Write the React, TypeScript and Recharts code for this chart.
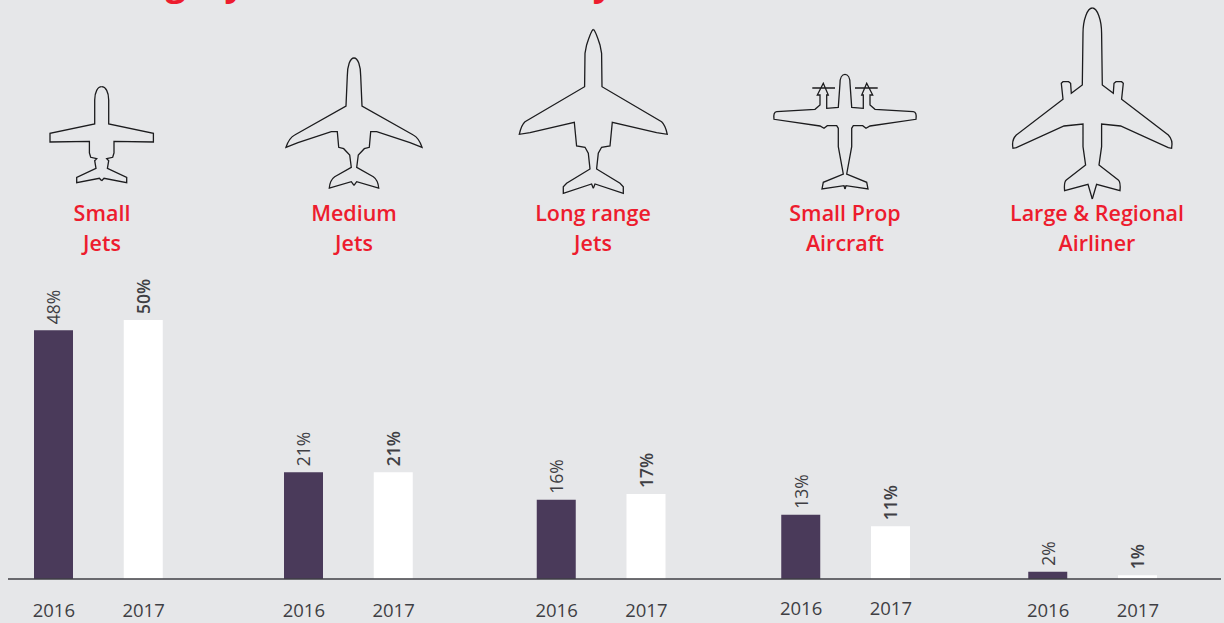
import React from "react";
import { BarChart, Bar, Cell, LabelList, XAxis, YAxis } from "recharts";

const categories = [
  ["Small", "Jets"],
  ["Medium", "Jets"],
  ["Long range", "Jets"],
  ["Small Prop", "Aircraft"],
  ["Large & Regional", "Airliner"],
];
const years = ["2016", "2017"];

// bar heights, printed labels kept apart
const share2016 = [48, 20.6, 15.3, 12.4, 1.4];
const share2017 = [50, 20.6, 16.4, 10.2, 0.7];
const labels2016 = ["48%", "21%", "16%", "13%", "2%"];
const labels2017 = ["50%", "21%", "17%", "11%", "1%"];

const BG = "#e6e7e9";
const PURPLE = "#4a3a5a";
const RED = "#ed1c2e";
const INK = "#3f3f44";
const FONT = "'Open Sans', sans-serif";

const PANEL_EDGES = [8, 223, 475, 724, 969, 1221];
const PANEL_MIDS = [98.75, 348.75, 601.5, 846, 1093];
const TICK_SHIFT = [0, 0, 0, -1.5, 0];
const BAND = 89.75;
const CHART_TOP = 268;
const CHART_H = 355;

const BarLabel = (props: any) => {
  const { x, y, width, value, index } = props;
  const cx = x + width / 2;
  const top = y - 6;
  return (
    <text
      transform={`rotate(-90 ${cx} ${top})`}
      x={cx}
      y={top}
      dy={7}
      textAnchor="start"
      fontFamily={FONT}
      fontSize={17.5}
      fontWeight={index === 1 ? 600 : 400}
      fill={INK}
    >
      {value}
    </text>
  );
};

const Panel = ({ i }: { i: number }) => {
  const left = PANEL_EDGES[i];
  const width = PANEL_EDGES[i + 1] - left;
  const padLeft = PANEL_MIDS[i] - BAND - left;
  const padRight = width - padLeft - BAND * 2;
  const data = years.map((year, k) => ({
    year,
    share: k === 0 ? share2016[i] : share2017[i],
    label: k === 0 ? labels2016[i] : labels2017[i],
  }));
  return (
    <div style={{ position: "absolute", left, top: CHART_TOP }}>
      <BarChart
        width={width}
        height={CHART_H}
        data={data}
        margin={{ top: 52, right: 0, bottom: 0, left: 0 }}
        style={{ overflow: "visible" }}
      >
        <XAxis
          dataKey="year"
          height={44}
          padding={{ left: padLeft, right: padRight }}
          tickLine={false}
          axisLine={{ stroke: INK, strokeWidth: 1.3 }}
          tick={{ fill: INK, fontSize: 18.5, fontFamily: FONT, dy: 16.5 + TICK_SHIFT[i] }}
          interval={0}
        />
        <YAxis hide domain={[0, 50]} />
        <Bar dataKey="share" barSize={39} isAnimationActive={false}>
          {data.map((d) => (
            <Cell key={d.year} fill={d.year === "2016" ? PURPLE : "#ffffff"} />
          ))}
          <LabelList dataKey="label" content={BarLabel} />
        </Bar>
      </BarChart>
    </div>
  );
};

// right half of each plane outline, mirrored about its centre line
const planes = [
  {
    cx: 101.7,
    d: "M0 86.7C4 86.7 7 92 7 100L7 124L51.7 133.3L51.7 142L12.3 141.3L12.3 153L11 157.3L5 158.7L7 160.7L5.7 168.3L25 177.3L25 182.7L2.3 178.3L0 180.7",
  },
  {
    cx: 354,
    d: "M0 58C4 58 6.7 66 6.7 76L8 106L59.3 135Q65 138 68 147.3L56 142.7L22.7 131.7L16.7 131.7L15.3 147.3L10.3 148.7L4.3 155L2.7 167.3L19.3 176.7Q24 180 24.7 188L2.7 181.7L0 185.3",
  },
  {
    cx: 593.3,
    d: "M0 29.3Q2 30 6.7 45L8.3 53.3L8.7 86.7L68.3 121.7Q72 125 74 134.3L63.3 132.7L19 122.3L16.7 146L8.3 147.3L5 153.3L3.3 169L26.7 183.3L30 186.7L30 193.3L1.7 184L0 188.3",
  },
  {
    cx: 845,
    d: "M0 74.3C3 74.3 5 78 5 83.3L6.7 107.3L18.3 108.3L18.3 95L16.7 95L21.7 83.3L27.7 95L25 95L25 105L30 109.3L68.3 111.7Q72 112 71 119.3L25 126L21 128.3L17.7 125.7L8.3 125.7L6.7 128.3L6.7 146.7L1.7 174L21.7 182.3L23 189L1 185.7L0 189M10 88L32.7 88",
  },
  {
    cx: 1092.3,
    d: "M0 8C5 8 9.3 20 9.3 33.3L10 85L21 93.3L21.7 83.3L23.7 81.7L29.3 81.7L31 83.3L29.3 99.3L76 135Q81 140 79.3 148.3L76 147.7L28.3 126L9.3 124L9.3 146.7L6.7 165L26 180Q28.5 182 27.7 190.7L4.3 184.3L0 199",
  },
];

const labelCentres = [102, 354, 593, 845, 1097];

const App = () => (
  <div
    style={{
      position: "absolute",
      left: 0,
      top: 0,
      width: 1224,
      height: 623,
      background: BG,
      overflow: "hidden",
      fontFamily: FONT,
    }}
  >
    <svg width={1224} height={623} style={{ position: "absolute", left: 0, top: 0 }}>
      <text x={84} y={-5} fontFamily={FONT} fontSize={36} fontWeight={700} fill={RED}>
        Category
      </text>
      <text x={570} y={-5} fontFamily={FONT} fontSize={36} fontWeight={700} fill={RED}>
        by
      </text>
      {planes.map((p) => (
        <g key={p.cx} transform={`translate(${p.cx} 0)`} fill="none" stroke="#1c1c1e" strokeWidth={1.3}>
          <path d={p.d} />
          <path d={p.d} transform="scale(-1 1)" />
        </g>
      ))}
      {categories.map((lines, i) =>
        lines.map((line, k) => (
          <text
            key={line + i}
            x={labelCentres[i]}
            y={221 + k * 30}
            textAnchor="middle"
            fontFamily={FONT}
            fontSize={21.5}
            fontWeight={600}
            fill={RED}
          >
            {line}
          </text>
        ))
      )}
    </svg>
    {categories.map((_, i) => (
      <Panel key={i} i={i} />
    ))}
  </div>
);

export default App;
